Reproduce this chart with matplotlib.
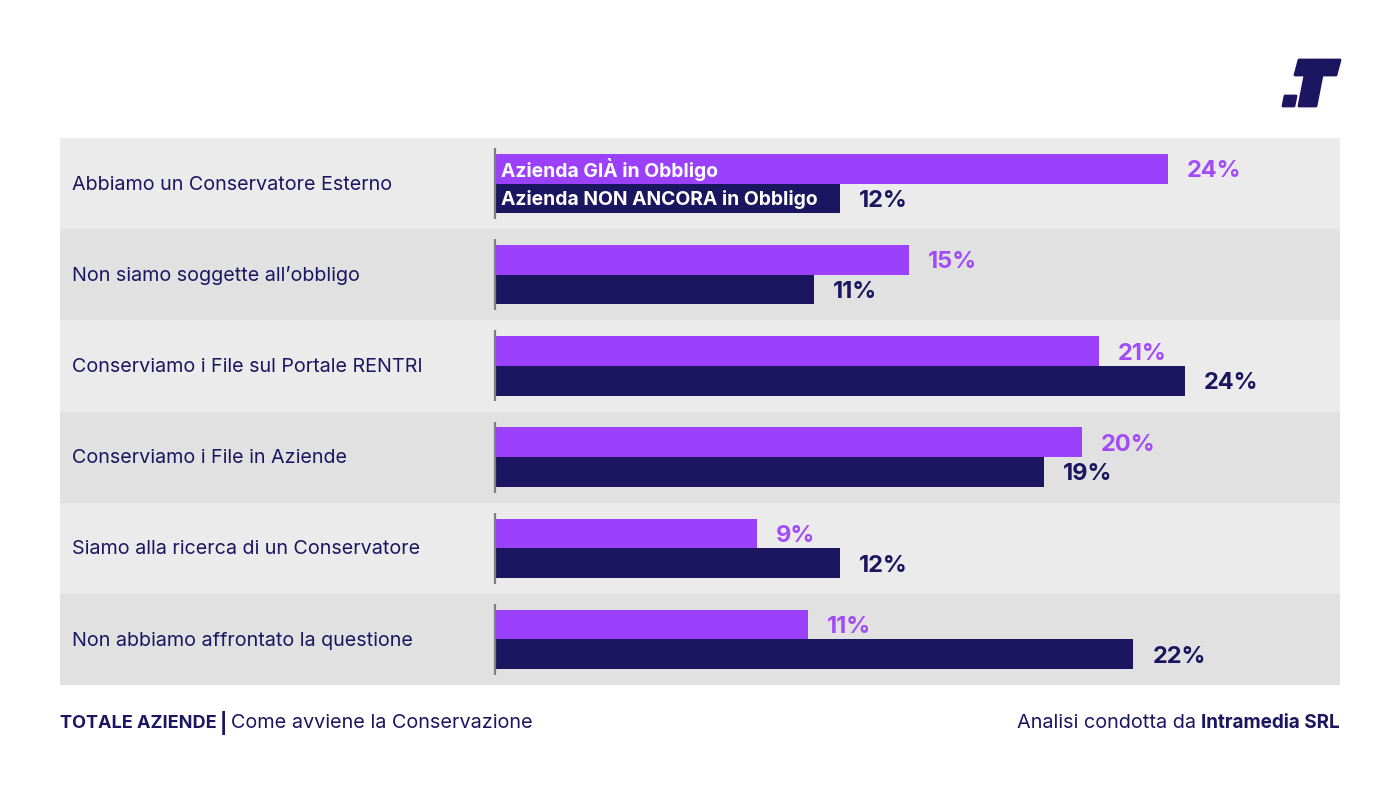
import matplotlib
matplotlib.use("Agg")
import matplotlib.pyplot as plt
from matplotlib.patches import Polygon
from matplotlib.transforms import blended_transform_factory

categories = [
    "Abbiamo un Conservatore Esterno",
    "Non siamo soggette all\u2019obbligo",
    "Conserviamo i File sul Portale RENTRI",
    "Conserviamo i File in Aziende",
    "Siamo alla ricerca di un Conservatore",
    "Non abbiamo affrontato la questione",
]
gia_values = [23.4, 14.4, 21.0, 20.4, 9.1, 10.9]
non_values = [12.0, 11.1, 24.0, 19.1, 12.0, 22.2]
gia_labels = ["24%", "15%", "21%", "20%", "9%", "11%"]
non_labels = ["12%", "11%", "24%", "19%", "12%", "22%"]
series_names = ["Azienda GI\u00c0 in Obbligo", "Azienda NON ANCORA in Obbligo"]

PURPLE = "#9b40fb"
PURPLE_TXT = "#a24cf7"
NAVY = "#1c1560"
LIGHT = "#ebebeb"
DARK = "#e1e1e1"
FONT = "Inter"

plt.rcParams["font.family"] = [FONT, "DejaVu Sans"]

W, H = 1400, 791
fig = plt.figure(figsize=(W / 100, H / 100), dpi=100)
fig.patch.set_facecolor("white")

ax = fig.add_axes([60 / W, 1 - 685 / H, 1280 / W, (685 - 138) / H])
px_per_pct = 28.75
xmin = (60 - 495) / px_per_pct
xmax = (1340 - 495) / px_per_pct
ax.set_xlim(xmin, xmax)
n = len(categories)
ax.set_ylim(n - 0.5, -0.5)
ax.axis("off")

for i in range(n):
    ax.axhspan(i - 0.5, i + 0.5, color=LIGHT if i % 2 == 0 else DARK, zorder=0, lw=0)

bh = 0.325
ys = list(range(n))
ax.barh([y - bh / 2 for y in ys], gia_values, height=bh, color=PURPLE, zorder=2, lw=0)
ax.barh([y + bh / 2 for y in ys], non_values, height=bh, color=NAVY, zorder=2, lw=0)
ax.vlines([0] * n, [y - 0.39 for y in ys], [y + 0.39 for y in ys], color="#7f7f7f", lw=1.6, zorder=3)

gap = 19 / px_per_pct
dy = 0.028
for i in range(n):
    ax.text(gia_values[i] + gap, i - bh / 2 + dy, gia_labels[i], color=PURPLE_TXT, fontsize=17,
            fontweight="bold", va="center", ha="left", zorder=4)
    ax.text(non_values[i] + gap, i + bh / 2 + dy, non_labels[i], color=NAVY, fontsize=17,
            fontweight="bold", va="center", ha="left", zorder=4)

trans = blended_transform_factory(ax.transAxes, ax.transData)
for i, c in enumerate(categories):
    ax.text(12 / 1280, i + 0.012, c, transform=trans, color=NAVY, fontsize=14.2, va="center", ha="left")

inset = 6 / px_per_pct
ax.text(inset, -bh / 2 + 0.01, series_names[0], color="white", fontsize=13.9, fontweight="bold",
        va="center", ha="left", zorder=4)
ax.text(inset, bh / 2 + 0.01, series_names[1], color="white", fontsize=13.9, fontweight="bold",
        va="center", ha="left", zorder=4)

# footer
fy = 1 - 723 / H
t1 = fig.text(60 / W, fy, "TOTALE AZIENDE", color=NAVY, fontsize=13, fontweight="bold", va="center", ha="left")
fig.canvas.draw()
bb = t1.get_window_extent()
t1b = fig.text((bb.x1 + 3) / W, fy, "|", color=NAVY, fontsize=14, fontweight="bold", va="center", ha="left")
fig.canvas.draw()
bbb = t1b.get_window_extent()
fig.text((bbb.x1 + 4) / W, fy, "Come avviene la Conservazione", color=NAVY, fontsize=14.3, va="center", ha="left")
t2 = fig.text(1340 / W, fy, "Intramedia SRL", color=NAVY, fontsize=13.6, fontweight="bold", va="center", ha="right")
fig.canvas.draw()
bb2 = t2.get_window_extent()
fig.text(bb2.x0 / W, fy, "Analisi condotta da ", color=NAVY, fontsize=14.3, va="center", ha="right")

# logo
def P(pts):
    return [(x / W, 1 - y / H) for x, y in pts]

logo_kw = dict(closed=True, transform=fig.transFigure, facecolor=NAVY, edgecolor=NAVY,
               lw=2, joinstyle="round")
fig.patches.append(Polygon(P([(1299, 60), (1340, 60), (1336, 75), (1295, 75)]), **logo_kw))
fig.patches.append(Polygon(P([(1306, 70), (1323, 70), (1316, 106), (1299, 106)]), **logo_kw))
fig.patches.append(Polygon(P([(1285, 96), (1296, 96), (1294, 106), (1283, 106)]), **logo_kw))

fig.savefig("out.png", dpi=100, facecolor="white")
